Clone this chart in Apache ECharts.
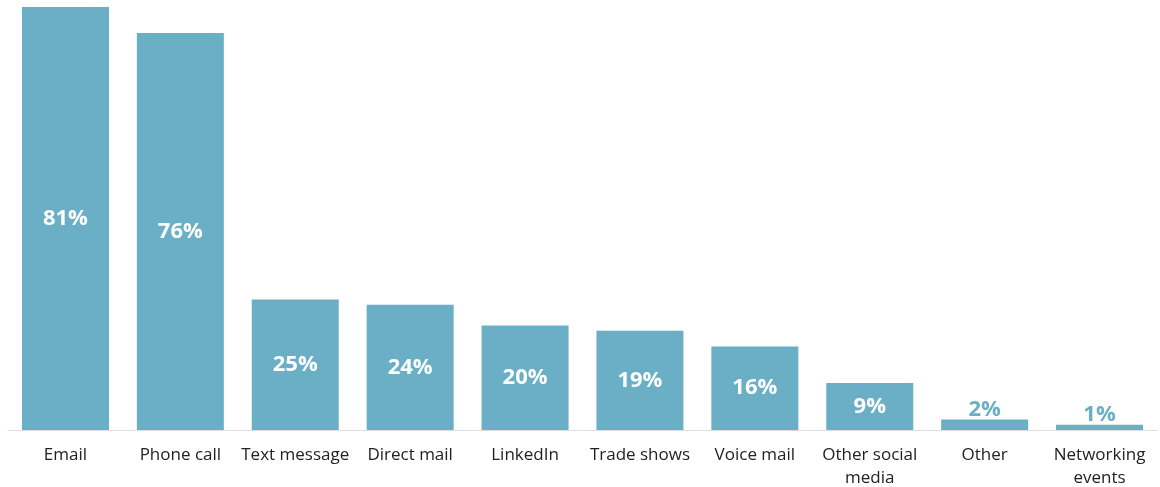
<!DOCTYPE html>
<html>
<head>
<meta charset="utf-8">
<style>
  html, body { margin: 0; padding: 0; background: #ffffff; }
  #chart { width: 1160px; height: 487px; }
</style>
<script src="https://cdn.jsdelivr.net/npm/echarts@6/dist/echarts.min.js"></script>
</head>
<body>
<div id="chart"></div>
<script>
// Outreach channels and share of respondents (%)
const categories = ['Email', 'Phone call', 'Text message', 'Direct mail', 'LinkedIn',
  'Trade shows', 'Voice mail', 'Other social\nmedia', 'Other', 'Networking\nevents'];
const shares = [81, 76, 25, 24, 20, 19, 16, 9, 2, 1];

const BAR = '#6aafc6';
const FONT = '"Open Sans", "Noto Sans", sans-serif';

const chart = echarts.init(document.getElementById('chart'), null, { renderer: 'canvas' });

// Short bars get their label above the bar in the bar colour
const seriesData = shares.map(v => {
  const small = v < 5;
  return {
    value: v,
    label: {
      position: small ? 'top' : 'inside',
      color: small ? BAR : '#ffffff',
      distance: -1
    }
  };
});

chart.setOption({
  animation: false,
  grid: {
    left: 8, right: 3, top: 7, bottom: 57,
    containLabel: false,
    outerBoundsMode: 'none'
  },
  xAxis: {
    type: 'category',
    data: categories,
    axisLine: { show: true, lineStyle: { color: '#dedede', width: 1 } },
    axisTick: { show: false },
    axisLabel: {
      color: '#222222',
      fontFamily: FONT,
      fontSize: 17,
      lineHeight: 23,
      margin: 14,
      interval: 0
    }
  },
  yAxis: {
    type: 'value',
    min: 0,
    max: 81,
    show: false,
    splitLine: { show: false }
  },
  series: [{
    type: 'bar',
    data: seriesData,
    barWidth: 87,
    itemStyle: { color: BAR },
    label: {
      show: true,
      formatter: '{c}%',
      fontFamily: FONT,
      fontWeight: 'bold',
      fontSize: 22
    }
  }]
});
</script>
</body>
</html>
